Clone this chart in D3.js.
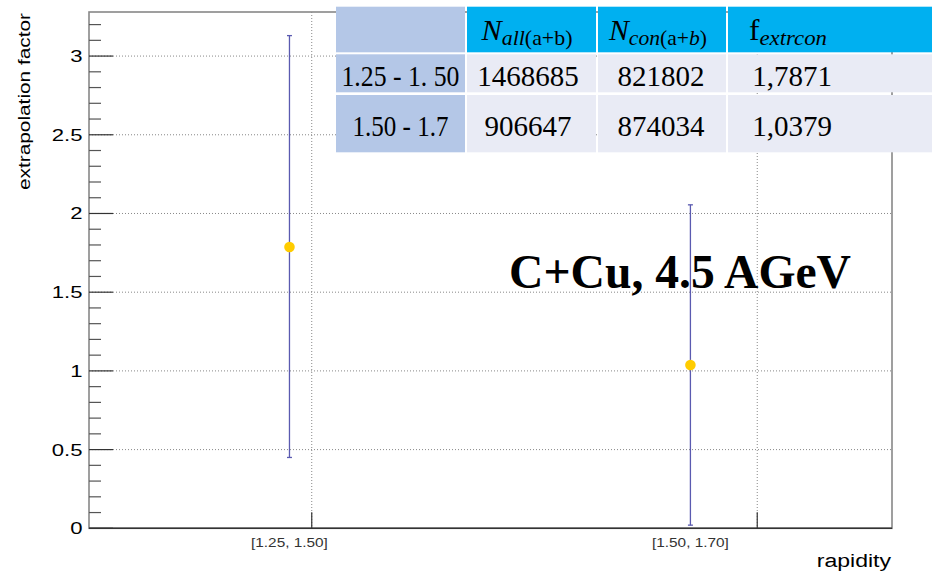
<!DOCTYPE html>
<html lang="en">
<head>
    <meta charset="UTF-8">
    <title>extrapolation factor</title>
    <script src="https://d3js.org/d3.v7.min.js"></script>
    <style>
        body { margin: 0; background: #fff; }
        svg { display: block; }
        .sans { font-family: "Liberation Sans", Arial, sans-serif; }
        .serif { font-family: "Liberation Serif", "Times New Roman", serif; }
    </style>
</head>
<body>
<div id="container"></div>
<script>
    // data
    const bins = ['[1.25, 1.50]', '[1.50, 1.70]'];
    const binX = [1.49, 1.67];
    const factor = [1.7871, 1.0379];
    const errLow = [0.45, 0.02];
    const errHigh = [3.13, 2.055];
    const xTicks = [1.5, 1.7];
    const yMajor = [0, 0.5, 1, 1.5, 2, 2.5, 3];

    // table
    const rangeLabels = ['1.25 - 1. 50', '1.50 - 1.7'];
    const nAll = ['1468685', '906647'];
    const nCon = ['821802', '874034'];
    const fExtr = ['1,7871', '1,0379'];

    const W = 932, H = 575;
    const frame = {left: 89, right: 892, top: 12, bottom: 528.3};

    const svg = d3.select('#container').append('svg')
        .attr('width', W).attr('height', H);

    const x = d3.scaleLinear().domain([1.40, 1.7605]).range([frame.left, frame.right]);
    const y = d3.scaleLinear().domain([0, 3.28]).range([frame.bottom, frame.top]);

    // widen text like the stretched original
    function stretch(sel, k) {
        sel.each(function() {
            const L = this.getComputedTextLength();
            d3.select(this).attr('textLength', L * k).attr('lengthAdjust', 'spacingAndGlyphs');
        });
    }

    // grid
    svg.append('g').selectAll('line')
        .data(yMajor.filter(d => d > 0)).enter()
        .append('line')
        .attr('x1', frame.left).attr('x2', frame.right)
        .attr('y1', d => y(d)).attr('y2', d => y(d))
        .attr('stroke', '#888').attr('stroke-width', 1)
        .attr('stroke-dasharray', '1,2');

    svg.append('g').selectAll('line')
        .data(xTicks).enter()
        .append('line')
        .attr('x1', d => x(d)).attr('x2', d => x(d))
        .attr('y1', frame.top).attr('y2', frame.bottom)
        .attr('stroke', '#888').attr('stroke-width', 1)
        .attr('stroke-dasharray', '1,2');

    // frame
    svg.append('rect')
        .attr('x', frame.left).attr('y', frame.top)
        .attr('width', frame.right - frame.left).attr('height', frame.bottom - frame.top)
        .attr('fill', 'none').attr('stroke', '#888').attr('stroke-width', 1.6);
    svg.append('line')
        .attr('x1', frame.left).attr('x2', frame.right)
        .attr('y1', frame.bottom).attr('y2', frame.bottom)
        .attr('stroke', '#333').attr('stroke-width', 1.4);

    // y ticks
    const minor = d3.range(1, 33).map(i => i / 10).filter(d => Math.abs(d * 2 - Math.round(d * 2)) > 1e-6);
    svg.append('g').selectAll('line')
        .data(minor).enter()
        .append('line')
        .attr('x1', frame.left).attr('x2', frame.left + 12)
        .attr('y1', d => y(d)).attr('y2', d => y(d))
        .attr('stroke', '#555').attr('stroke-width', 1.2);
    svg.append('g').selectAll('line')
        .data(yMajor).enter()
        .append('line')
        .attr('x1', frame.left).attr('x2', frame.left + 24)
        .attr('y1', d => y(d)).attr('y2', d => y(d))
        .attr('stroke', '#333').attr('stroke-width', 1.2);

    const yLabels = svg.append('g').selectAll('text')
        .data(yMajor).enter()
        .append('text')
        .attr('class', 'sans')
        .attr('x', 82.5).attr('y', d => y(d) + 6)
        .attr('text-anchor', 'end')
        .attr('font-size', 17)
        .text(d => d3.format('')(d));
    stretch(yLabels, 1.3);

    // x ticks
    svg.append('g').selectAll('line')
        .data(xTicks).enter()
        .append('line')
        .attr('x1', d => x(d)).attr('x2', d => x(d))
        .attr('y1', frame.bottom).attr('y2', frame.bottom - 16)
        .attr('stroke', '#333').attr('stroke-width', 1.2);

    const xLabels = svg.append('g').selectAll('text')
        .data(bins).enter()
        .append('text')
        .attr('class', 'sans')
        .attr('x', (d, i) => x(binX[i])).attr('y', 547)
        .attr('text-anchor', 'middle')
        .attr('font-size', 12).attr('fill', '#333')
        .text(d => d);
    stretch(xLabels, 1.28);

    // axis titles
    const xt = svg.append('text')
        .attr('class', 'sans')
        .attr('x', 891).attr('y', 567)
        .attr('text-anchor', 'end').attr('font-size', 18)
        .text('rapidity');
    stretch(xt, 1.28);

    svg.append('text')
        .attr('class', 'sans')
        .attr('transform', 'translate(29.5,13) rotate(-90)')
        .attr('text-anchor', 'end').attr('font-size', 17)
        .attr('textLength', 177).attr('lengthAdjust', 'spacingAndGlyphs')
        .text('extrapolation factor');

    // error bars
    const pts = factor.map((v, i) => ({x: binX[i], v: v, lo: errLow[i], hi: errHigh[i]}));
    const eb = svg.append('g').attr('stroke', '#5a5ab0').attr('stroke-width', 1.3);
    eb.selectAll('.bar').data(pts).enter().append('line')
        .attr('x1', d => x(d.x)).attr('x2', d => x(d.x))
        .attr('y1', d => y(d.lo)).attr('y2', d => y(d.hi));
    eb.selectAll('.capHi').data(pts).enter().append('line')
        .attr('x1', d => x(d.x) - 2.5).attr('x2', d => x(d.x) + 2.5)
        .attr('y1', d => y(d.hi)).attr('y2', d => y(d.hi));
    eb.selectAll('.capLo').data(pts).enter().append('line')
        .attr('x1', d => x(d.x) - 2.5).attr('x2', d => x(d.x) + 2.5)
        .attr('y1', d => y(d.lo)).attr('y2', d => y(d.lo));

    svg.append('g').selectAll('circle')
        .data(pts).enter()
        .append('circle')
        .attr('cx', d => x(d.x)).attr('cy', d => y(d.v))
        .attr('r', 5.3).attr('fill', '#ffcc00');

    // big label
    svg.append('text')
        .attr('class', 'serif')
        .attr('x', 509).attr('y', 288)
        .attr('font-size', 48).attr('font-weight', 'bold')
        .attr('textLength', 342).attr('lengthAdjust', 'spacingAndGlyphs')
        .text('C+Cu, 4.5 AGeV');

    // table overlay
    const colX = [336, 467, 598, 728];
    const colW = [129, 129, 128, 205];
    const textX = [400.5, 528, 661, 792];
    const headX = [527, 658, 788];
    const headLen = [91, 98, 78];
    const firstColLen = [118, 96];
    const rowY = [6.7, 54.3, 95];
    const rowH = [45.6, 38, 57.3];
    const tbl = svg.append('g');

    const rows = [[null, 'h1', 'h2', 'h3']].concat(rangeLabels.map((r, i) => [r, nAll[i], nCon[i], fExtr[i]]));
    rows.forEach((row, ri) => {
        row.forEach((cell, ci) => {
            let fill;
            if (ci === 0) fill = '#b4c7e7';
            else if (ri === 0) fill = '#00b0f0';
            else fill = '#e9ebf5';
            tbl.append('rect')
                .attr('x', colX[ci]).attr('y', rowY[ri])
                .attr('width', colW[ci]).attr('height', rowH[ri])
                .attr('fill', fill);
        });
    });

    // body text
    const baseY = [86, 136];
    rows.slice(1).forEach((row, ri) => {
        tbl.selectAll(null).data(row).enter()
            .append('text')
            .attr('class', 'serif')
            .attr('x', (d, ci) => textX[ci]).attr('y', baseY[ri])
            .attr('text-anchor', 'middle')
            .attr('font-size', 29).attr('fill', '#000')
            .attr('textLength', (d, ci) => ci === 0 ? firstColLen[ri] : null)
            .attr('lengthAdjust', 'spacingAndGlyphs')
            .text(d => d);
    });

    // header text with subscripts
    const headers = [
        [{t: 'N', it: true, sub: false}, {t: 'all', it: true, sub: true}, {t: '(a+b)', it: false, sub: true}],
        [{t: 'N', it: true, sub: false}, {t: 'con', it: true, sub: true}, {t: '(a+', it: false, sub: true}, {t: 'b', it: true, sub: true}, {t: ')', it: false, sub: true}],
        [{t: 'f', it: false, sub: false}, {t: 'extrcon', it: true, sub: true}]
    ];
    headers.forEach((parts, hi) => {
        const tx = tbl.append('text')
            .attr('class', 'serif')
            .attr('x', headX[hi]).attr('y', 39.5)
            .attr('text-anchor', 'middle').attr('fill', '#000')
            .attr('textLength', headLen[hi]).attr('lengthAdjust', 'spacingAndGlyphs');
        parts.forEach((p, pi) => {
            tx.append('tspan')
                .attr('font-size', p.sub ? 21 : 29)
                .attr('font-style', p.it ? 'italic' : 'normal')
                .attr('dy', p.sub && (pi === 0 || !parts[pi - 1].sub) ? 5 : 0)
                .text(p.t);
        });
    });
</script>
</body>
</html>
